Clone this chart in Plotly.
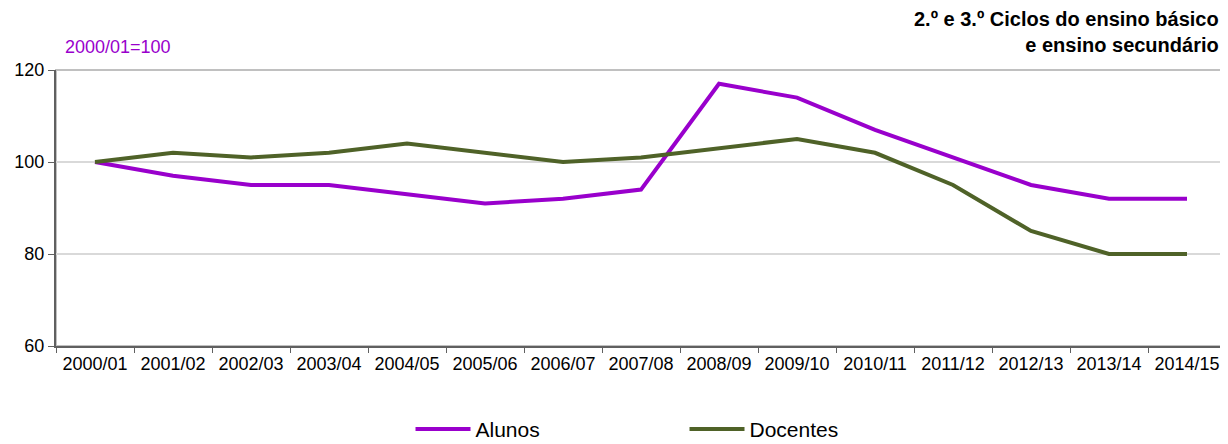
import plotly.graph_objects as go

anos = ['2000/01', '2001/02', '2002/03', '2003/04', '2004/05', '2005/06', '2006/07',
        '2007/08', '2008/09', '2009/10', '2010/11', '2011/12', '2012/13', '2013/14', '2014/15']
alunos = [100, 97, 95, 95, 93, 91, 92, 94, 117, 114, 107, 101, 95, 92, 92]
docentes = [100, 102, 101, 102, 104, 102, 100, 101, 103, 105, 102, 95, 85, 80, 80]
y_ticks = [60, 80, 100, 120]

roxo = '#9900CC'
verde = '#4F6228'
fonte = 'Liberation Sans, Arial, sans-serif'

fig = go.Figure()
fig.add_trace(go.Scatter(x=anos, y=alunos, name='Alunos', mode='lines',
                         line=dict(color=roxo, width=4)))
fig.add_trace(go.Scatter(x=anos, y=docentes, name='Docentes', mode='lines',
                         line=dict(color=verde, width=4)))

# moldura cinzenta (topo e direita)
fig.add_shape(type='rect', xref='paper', yref='paper', x0=0, x1=1, y0=0, y1=1,
              line=dict(color='#c0c0c0', width=2), layer='below')

fig.add_annotation(text='2000/01=100', xref='paper', yref='paper',
                   x=0.006, y=1.083, xanchor='left', yanchor='middle', showarrow=False,
                   font=dict(family=fonte, size=18, color=roxo))
fig.add_annotation(text='<b>2.º e 3.º Ciclos do ensino básico<br>e ensino secundário</b>',
                   xref='paper', yref='paper', x=0.996, y=1.137,
                   xanchor='right', yanchor='middle', align='right', showarrow=False,
                   font=dict(family=fonte, size=20, color='#000000'))

# a página tem 8px de margem no body: figura deslocada 8px
fig.update_layout(
    width=1220, height=444,
    margin=dict(l=48, r=2, t=62, b=104),
    plot_bgcolor='white', paper_bgcolor='white',
    font=dict(family=fonte, size=18, color='#000000'),
    showlegend=True,
    legend=dict(orientation='h', x=0.303, xanchor='left', y=-0.302, yanchor='middle',
                font=dict(size=21), entrywidth=204, itemwidth=55,
                bgcolor='rgba(0,0,0,0)'),
    xaxis=dict(type='category', range=[-0.5, 14.5], tickson='boundaries',
               ticks='outside', ticklen=5, tickcolor='#606060',
               showline=True, linecolor='#606060', linewidth=2,
               showgrid=False, fixedrange=True),
    yaxis=dict(range=[60, 120], tickvals=y_ticks, ticks='outside', ticklen=6,
               tickcolor='#606060', showline=True, linecolor='#606060', linewidth=2,
               showgrid=True, gridcolor='#d9d9d9', gridwidth=1.5, zeroline=False,
               fixedrange=True),
)

fig.write_html('out.html')
